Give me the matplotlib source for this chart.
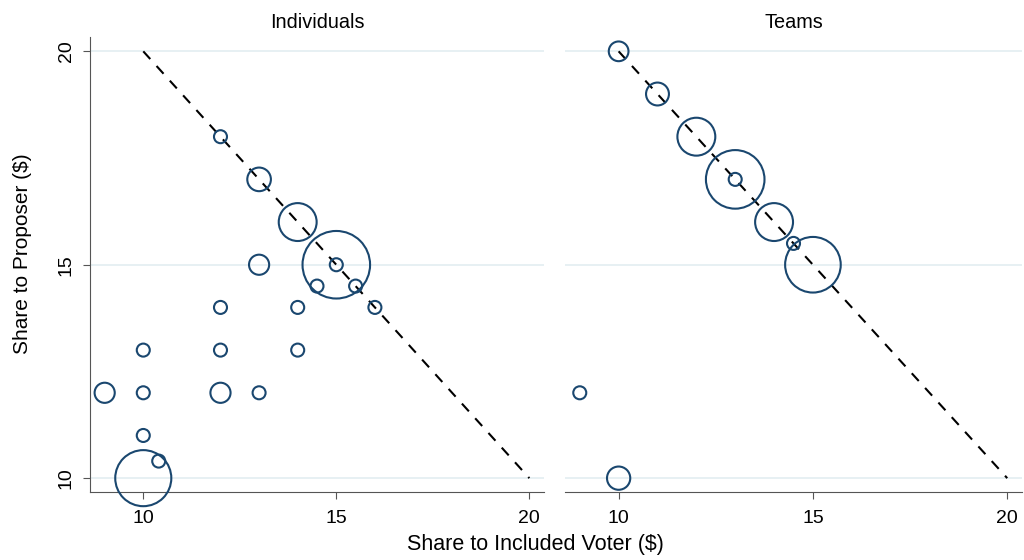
import matplotlib
matplotlib.use("Agg")
import matplotlib.pyplot as plt
import numpy as np

plt.rcParams['font.family'] = ['Liberation Sans', 'DejaVu Sans']

# Individuals: share to included voter (x), share to proposer (y), relative frequency (bubble area)
ind_x = [12, 13, 14, 15, 15, 13, 14.5, 15.5, 16, 12, 14, 10, 12, 14, 9, 10, 12, 13, 10, 10.4, 10]
ind_y = [18, 17, 16, 15, 15, 15, 14.5, 14.5, 14, 14, 14, 13, 13, 13, 12, 12, 12, 12, 11, 10.4, 10]
ind_w = [1, 3.3, 8.5, 27, 1, 2.4, 1, 1, 1, 1, 1, 1, 1, 1, 2.4, 1, 2.4, 1, 1, 1, 18.6]

# Teams
team_x = [10, 11, 12, 13, 13, 14, 14.5, 15, 9, 10]
team_y = [20, 19, 18, 17, 17, 16, 15.5, 15, 12, 10]
team_w = [2.3, 3.1, 8.5, 20.3, 1, 8.5, 1, 18.3, 1, 3.2]

panels = [("Individuals", ind_x, ind_y, ind_w), ("Teams", team_x, team_y, team_w)]
ticks = [10, 15, 20]

navy = "#1a476f"
grid_c = "#e3eef1"
spine_c = "#555555"

fig = plt.figure(figsize=(10.24, 5.6), dpi=100)
axes = [fig.add_axes([90/1024, 0.121, 454/1024, 0.8125]),
        fig.add_axes([565/1024, 0.121, 457/1024, 0.8125])]

base = (13 * 0.72) ** 2  # marker area for weight 1

for i, (ax, (title, x, y, w)) in enumerate(zip(axes, panels)):
    for t in ticks:
        ax.axhline(t, color=grid_c, lw=1.2, zorder=0)
    ax.plot([10, 20], [20, 10], color="black", lw=1.5, ls=(0, (5, 4.5)), zorder=2)
    ax.scatter(x, y, s=np.array(w) * base, facecolors="none", edgecolors=navy,
               linewidths=1.5, zorder=3, clip_on=False)
    ax.set_xlim(8.62, 20.38)
    ax.set_ylim(9.67, 20.33)
    ax.set_xticks(ticks)
    ax.set_yticks(ticks)
    ax.set_title(title, fontsize=14.3, pad=7)
    for s in ["top", "right"]:
        ax.spines[s].set_visible(False)
    ax.spines["bottom"].set_color(spine_c)
    ax.spines["left"].set_color(spine_c)
    ax.tick_params(axis="x", length=5, color=spine_c, labelsize=14, pad=8)
    ax.tick_params(axis="y", length=5, color=spine_c, labelsize=14, pad=6)
    if i == 0:
        for lab in ax.get_yticklabels():
            lab.set_rotation(90)
            lab.set_va("center")
    else:
        ax.spines["left"].set_visible(False)
        ax.tick_params(axis="y", left=False, labelleft=False)

fig.text(23/1024, 1 - 254/560, "Share to Proposer ($)", rotation=90,
         ha="center", va="center", fontsize=15)
fig.text(535/1024, 0.018, "Share to Included Voter ($)", ha="center", va="baseline", fontsize=15.5)

fig.savefig("out.png", dpi=100)
